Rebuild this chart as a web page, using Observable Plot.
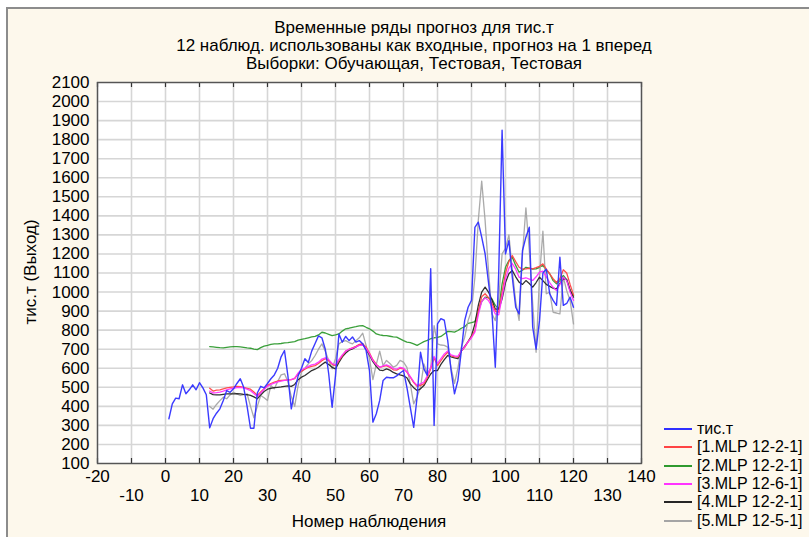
<!DOCTYPE html>
<html><head><meta charset="utf-8">
<script src="https://cdn.jsdelivr.net/npm/d3@7"></script>
<script src="https://cdn.jsdelivr.net/npm/@observablehq/plot@0.6"></script>
<style>
html,body{margin:0;padding:0;background:#fff;}
body{width:809px;height:537px;overflow:hidden;position:relative;font-family:"Liberation Sans",Arial,sans-serif;color:#000;}
#panel{position:absolute;left:6px;top:7px;width:810px;height:540px;background:#fdf8ec;border-left:2px solid #8c8c8c;border-top:2px solid #8c8c8c;}
#chart{position:absolute;left:0;top:0;}
.t{position:absolute;left:0;width:828px;text-align:center;font-size:17px;line-height:18px;white-space:nowrap;}
#xlab{position:absolute;left:97px;width:544px;top:512px;text-align:center;font-size:17px;}
#ylab{position:absolute;left:31px;top:272px;font-size:17px;white-space:nowrap;transform:translate(-50%,-50%) rotate(-90deg);}
#legend{position:absolute;left:664px;top:420px;font-size:16px;}
.li{height:18.3px;display:flex;align-items:center;white-space:nowrap;}
.sw{display:inline-block;width:28px;height:2px;margin-right:5px;}
</style></head>
<body>
<div id="panel"></div>
<div id="chart"></div>
<div class="t" style="top:19px">Временные ряды прогноз для тис.т</div>
<div class="t" style="top:37px">12 наблюд. использованы как входные, прогноз на 1 вперед</div>
<div class="t" style="top:55px">Выборки: Обучающая, Тестовая, Тестовая</div>
<div id="ylab">тис.т (Выход)</div>
<div id="xlab">Номер наблюдения</div>
<div id="legend"></div>
<script>
const yTicks = [100,200,300,400,500,600,700,800,900,1000,1100,1200,1300,1400,1500,1600,1700,1800,1900,2000,2100];
const xTicksRow1 = [-20,0,20,40,60,80,100,120,140];
const xTicksRow2 = [-10,10,30,50,70,90,110,130];

// observed series, observations 1..120
const actual = [
335,413,443,440,513,466,487,513,487,524,
497,461,287,335,364,387,431,483,474,492,
520,545,500,400,285,285,470,505,497,520,
545,565,600,660,693,560,387,480,560,600,
650,630,690,730,770,760,700,571,395,560,
780,737,767,745,764,737,745,728,693,588,
317,361,431,536,553,550,550,560,575,588,
500,395,290,448,684,597,562,1122,300,833,
860,852,746,588,466,536,690,851,920,956,
1340,1367,1288,1201,1050,900,605,1100,1850,1200,
1270,1078,920,885,1218,1288,1340,816,700,850,
1100,1120,991,956,930,1183,930,940,973,920];
const actualStart = 1;

// forecasts, observations 13..120
const mlp1 = [
495,480,485,487,492,497,500,502,505,504,
500,495,490,475,457,475,492,510,520,527,
533,536,538,539,540,545,570,585,595,605,
610,614,625,640,650,640,620,614,640,665,
690,700,707,715,725,728,710,680,645,620,
605,610,614,605,592,590,600,597,580,553,
525,505,510,518,550,597,655,614,640,665,
684,665,660,658,690,710,740,765,798,900,
975,991,970,940,900,895,999,1100,1160,1192,
1160,1130,1120,1122,1125,1122,1128,1135,1148,1120,
1096,1070,1050,1070,1117,1100,1040,985];
const mlp2 = [
714,712,710,708,707,710,712,713,714,712,
710,707,705,700,698,708,716,720,725,728,
728,730,733,734,737,740,748,752,755,760,
765,767,775,789,785,778,771,775,780,795,
807,810,815,818,822,824,815,807,795,780,
775,772,771,768,765,763,754,745,737,735,
728,720,730,740,746,755,760,762,767,780,
793,792,790,798,810,818,836,840,845,900,
950,973,970,964,930,912,1043,1130,1166,1183,
1140,1104,1115,1130,1125,1120,1122,1130,1140,1115,
1096,1060,1043,1060,1087,1065,1008,981];
const mlp3 = [
480,470,472,475,480,487,492,495,498,500,
497,490,482,468,452,470,490,505,515,522,
528,532,536,538,540,548,575,592,600,610,
618,622,632,648,655,645,625,618,645,670,
690,700,705,712,720,722,705,675,640,618,
605,612,618,610,598,595,605,600,582,556,
530,510,518,528,560,605,662,625,650,675,
690,670,665,662,692,712,738,760,790,880,
950,970,955,925,885,880,975,1070,1125,1150,
1120,1078,1070,1075,1068,1061,1080,1104,1110,1080,
1050,1025,1008,1040,1078,1060,1000,956];
const mlp4 = [
470,462,460,460,463,465,466,466,467,466,
463,461,458,450,440,460,478,490,495,498,
500,502,505,508,505,515,540,553,562,575,
588,595,605,620,632,620,605,597,630,660,
680,695,702,712,722,728,700,670,635,610,
590,588,597,590,578,571,565,560,550,518,
498,483,492,509,540,570,588,588,620,645,
667,660,655,650,690,715,740,770,833,930,
1000,1026,1000,960,910,910,964,1050,1096,1113,
1080,1052,1040,1060,1045,1026,1050,1078,1060,1040,
1030,1020,1017,1045,1070,1065,1010,973];
const mlp5 = [
399,385,410,430,448,440,460,474,465,457,
462,466,400,340,400,457,445,431,510,492,
530,565,571,530,450,400,510,580,600,623,
640,667,700,728,690,641,597,650,728,740,
745,735,728,745,760,784,720,650,540,620,
690,614,641,625,605,615,641,632,605,518,
413,450,500,623,571,600,824,728,722,720,
711,600,520,600,711,763,850,903,1078,1376,
1582,1376,1113,886,850,960,1200,1230,1300,1113,
950,851,1201,1442,1218,938,684,1078,1320,991,
1000,894,890,885,1078,1008,956,833];
const forecastStart = 13;

const series = [
  {name: "тис.т", values: actual, start: actualStart, color: "#3030ff", w: 1.4},
  {name: "[1.MLP 12-2-1]", values: mlp1, start: forecastStart, color: "#ff4444", w: 1.3},
  {name: "[2.MLP 12-2-1]", values: mlp2, start: forecastStart, color: "#2f9a2f", w: 1.3},
  {name: "[3.MLP 12-6-1]", values: mlp3, start: forecastStart, color: "#ff33ff", w: 1.3},
  {name: "[4.MLP 12-2-1]", values: mlp4, start: forecastStart, color: "#262626", w: 1.3},
  {name: "[5.MLP 12-5-1]", values: mlp5, start: forecastStart, color: "#a5a5a5", w: 1.3}
];
const drawOrder = [2, 5, 4, 1, 3, 0];
const rowsOf = s => s.values.map((v, i) => ({x: s.start + i, y: v}));

const W = 809, H = 537, mT = 82, mB = 74, mL = 97, mR = 168;
const innerH = H - mT - mB;
const font = {fontSize: 17, fontFamily: "Liberation Sans, Arial, sans-serif"};

const chart = Plot.plot({
  width: W, height: H,
  marginTop: mT, marginBottom: mB, marginLeft: mL, marginRight: mR,
  style: {background: "transparent", color: "#000", ...font, overflow: "visible"},
  x: {domain: [-20, 140]},
  y: {domain: [100, 2100]},
  marks: [
    Plot.frame({fill: "#ffffff", stroke: null}),
    Plot.gridX(xTicksRow1.concat(xTicksRow2), {stroke: "#d6d6d6", strokeOpacity: 1, strokeWidth: 1.6}),
    Plot.gridY(yTicks, {stroke: "#d6d6d6", strokeOpacity: 1, strokeWidth: 1.6}),
    ...drawOrder.map(i => Plot.line(rowsOf(series[i]), {
      x: "x", y: "y", stroke: series[i].color, strokeWidth: series[i].w,
      strokeOpacity: 0.95, curve: "linear"
    })),
    Plot.ruleX(xTicksRow1.concat(xTicksRow2), {stroke: "#333", strokeWidth: 1.2, insetTop: innerH - 5}),
    Plot.ruleX(xTicksRow1.concat(xTicksRow2), {stroke: "#333", strokeWidth: 1.2, insetBottom: innerH - 5}),
    Plot.frame({stroke: "#555", strokeWidth: 1.4}),
    Plot.axisY(yTicks, {tickSize: 0, tickPadding: 8, label: null, fontSize: 17, tickFormat: d => String(d)}),
    Plot.axisX(xTicksRow1, {anchor: "bottom", tickSize: 0, tickPadding: 6, label: null, fontSize: 17, tickFormat: d => String(d)}),
    Plot.axisX(xTicksRow2, {anchor: "bottom", tickSize: 0, tickPadding: 25, label: null, fontSize: 17, tickFormat: d => String(d)})
  ]
});
document.getElementById("chart").appendChild(chart);

const legend = document.getElementById("legend");
for (const s of series) {
  const row = document.createElement("div");
  row.className = "li";
  const sw = document.createElement("span");
  sw.className = "sw";
  sw.style.background = s.color;
  const tx = document.createElement("span");
  tx.textContent = s.name;
  row.appendChild(sw); row.appendChild(tx);
  legend.appendChild(row);
}
</script>
</body></html>
